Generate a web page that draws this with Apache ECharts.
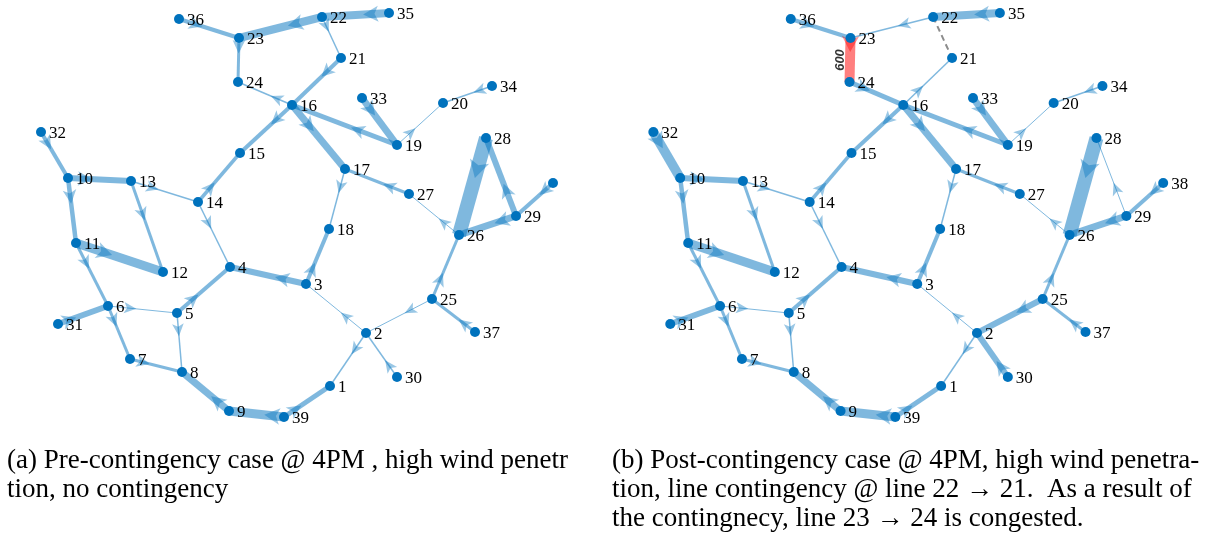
<!DOCTYPE html>
<html>
<head>
<meta charset="utf-8">
<script src="https://cdn.jsdelivr.net/npm/echarts@6/dist/echarts.min.js"></script>
<style>
  html, body { margin: 0; padding: 0; background: #ffffff; }
  #chart { width: 1210px; height: 535px; }
</style>
</head>
<body>
<div id="chart"></div>
<script>
// IEEE 39-bus system: bus layout in drawing units (y grows downward)
const busIds = [1, 2, 3, 4, 5, 6, 7, 8, 9, 10, 11, 12, 13, 14, 15, 16, 17, 18, 19, 20,
                21, 22, 23, 24, 25, 26, 27, 28, 29, 30, 31, 32, 33, 34, 35, 36, 37, 38, 39];
const busX = [330, 366, 306, 230, 177, 108, 130, 182, 229, 68, 76, 163, 131, 198, 240, 292, 345, 329, 397, 443,
              341, 322, 239, 238, 432, 459, 409, 486, 516, 397, 58, 41, 362, 492, 389, 179, 475, 553, 284];
const busY = [386, 333, 284, 267, 313, 306, 359, 372, 411, 178, 243, 272, 181, 202, 153, 105, 169, 229, 145, 103,
              58, 17, 38, 82, 299, 235, 194, 138, 216, 377, 324, 132, 98, 86, 13, 19, 332, 183, 417];

// (a) pre-contingency branch flows, sending bus -> receiving bus, MW
const preFrom = [36, 22, 35, 22, 21, 23, 16, 16, 14, 13, 14, 10, 32, 10, 13, 11, 11, 6, 31, 5, 5, 6, 7, 9, 39, 39,
                 2, 30, 2, 25, 37, 25, 3, 3, 17, 16, 27, 26, 19, 33, 19, 34, 28, 29, 29, 38];
const preTo   = [23, 23, 22, 21, 16, 24, 24, 15, 15, 14, 4, 13, 10, 11, 12, 12, 6, 5, 6, 4, 8, 7, 8, 8, 9, 1,
                 1, 2, 3, 2, 25, 26, 18, 4, 18, 17, 17, 27, 16, 19, 20, 20, 26, 28, 26, 29];
const preFlow = [250, 480, 480, 90, 240, 180, 90, 240, 210, 90, 90, 360, 240, 270, 180, 540, 180, 60, 360, 240, 90, 180, 180, 420, 540, 300,
                 90, 90, 60, 60, 180, 180, 240, 360, 90, 420, 180, 60, 300, 420, 60, 90, 840, 360, 420, 240];

// (b) post-contingency branch flows after tripping line 22 -> 21, MW
const postFrom = [36, 22, 35, 22, 16, 23, 24, 16, 14, 13, 14, 10, 32, 10, 13, 11, 11, 6, 31, 5, 5, 6, 7, 9, 39, 39,
                  2, 30, 2, 25, 37, 25, 3, 3, 17, 16, 27, 26, 19, 33, 19, 34, 28, 29, 29, 38];
const postTo   = [23, 23, 22, 21, 21, 24, 16, 15, 15, 14, 4, 13, 10, 11, 12, 12, 6, 5, 6, 4, 8, 7, 8, 8, 9, 1,
                  1, 2, 3, 2, 25, 26, 18, 4, 18, 17, 17, 27, 16, 19, 20, 20, 26, 28, 26, 29];
const postFlow = [250, 90, 480, 0, 90, 600, 300, 240, 210, 90, 90, 360, 570, 270, 180, 540, 180, 60, 360, 240, 90, 180, 180, 420, 540, 300,
                  90, 360, 60, 360, 180, 180, 240, 360, 90, 420, 180, 60, 300, 420, 60, 90, 840, 60, 420, 240];

const outagedLine = [22, 21];
const congestedLine = [23, 24];
const unlabeledBusesA = [38];

const captionA = '(a) Pre-contingency case @ 4PM , high wind penetr\ntion, no contingency';
const captionB = '(b) Post-contingency case @ 4PM, high wind penetra-\ntion, line contingency @ line 22 \u2192 21.  As a result of\nthe contingnecy, line 23 \u2192 24 is congested.';

// ---------------------------------------------------------------------------
const FLOW_COLOR = 'rgba(0,114,189,0.5)';
const CONGESTED_COLOR = 'rgba(255,0,0,0.5)';
const OUTAGE_COLOR = '#8c8c8c';
const BUS_COLOR = '#0072BD';
const SERIF = 'Liberation Serif';

function widthOf(flow) { return Math.max(1, flow / 60); }
function pos(bus) { const i = busIds.indexOf(bus); return [busX[i], busY[i]]; }
function sameLine(a, b, line) { return (a === line[0] && b === line[1]); }

function buildPanel(from, to, flow, panel, hiddenLabels) {
  const edges = [];
  const arrows = [];
  const notes = [];
  for (let k = 0; k < from.length; k++) {
    const p = pos(from[k]);
    const q = pos(to[k]);
    if (panel === 1 && sameLine(from[k], to[k], outagedLine)) {
      edges.push({ coords: [p, q], lineStyle: { width: 2, color: OUTAGE_COLOR, type: [6, 4], opacity: 1 } });
      continue;
    }
    const congested = panel === 1 && sameLine(from[k], to[k], congestedLine);
    const color = congested ? CONGESTED_COLOR : FLOW_COLOR;
    const w = widthOf(flow[k]);
    edges.push({ coords: [p, q], lineStyle: { width: w, color: color, opacity: 1 } });

    // arrow head with its tip at the middle of the branch
    const dx = q[0] - p[0], dy = q[1] - p[1];
    const len = Math.sqrt(dx * dx + dy * dy);
    const ah = 12 + w * 0.4;
    const aw = 8 + w * 0.5;
    const ux = dx / len, uy = dy / len;
    const cx = (p[0] + q[0]) / 2 - ux * ah * 0.5;
    const cy = (p[1] + q[1]) / 2 - uy * ah * 0.5;
    const rot = Math.atan2(-dx, -dy) * 180 / Math.PI;
    arrows.push({ value: [cx, cy], symbolRotate: rot, symbolSize: [aw, ah], itemStyle: { color: color } });

    if (congested) {
      notes.push({ value: [(p[0] + q[0]) / 2, (p[1] + q[1]) / 2, flow[k]] });
    }
  }
  const buses = busIds.map((id, i) => ({
    value: [busX[i], busY[i], id],
    label: { show: hiddenLabels.indexOf(id) < 0 }
  }));

  const series = [
    {
      type: 'lines', coordinateSystem: 'cartesian2d', xAxisIndex: panel, yAxisIndex: panel,
      polyline: false, silent: true, z: 1, animation: false,
      symbol: ['none', 'none'],
      data: edges
    },
    {
      type: 'scatter', xAxisIndex: panel, yAxisIndex: panel, symbol: 'arrow', silent: true, z: 2,
      animation: false, data: arrows
    },
    {
      type: 'scatter', xAxisIndex: panel, yAxisIndex: panel, symbol: 'circle', symbolSize: 10,
      silent: true, z: 3, animation: false,
      itemStyle: { color: BUS_COLOR, opacity: 1 },
      label: {
        show: true, position: 'right', distance: 3, offset: [0, 2],
        formatter: (d) => String(d.value[2]),
        fontFamily: SERIF, fontSize: 17, color: '#000'
      },
      data: buses
    }
  ];
  if (notes.length) {
    series.push({
      type: 'scatter', xAxisIndex: panel, yAxisIndex: panel, symbolSize: 2, silent: true, z: 4,
      animation: false, itemStyle: { color: 'rgba(0,0,0,0)' },
      label: {
        show: true, position: 'inside', rotate: 90, offset: [0, -10],
        formatter: (d) => String(d.value[2]),
        fontFamily: 'Liberation Sans', fontSize: 13,
        fontWeight: 'bold', fontStyle: 'italic', color: '#000'
      },
      data: notes
    });
  }
  return series;
}

const chart = echarts.init(document.getElementById('chart'), null, { renderer: 'canvas' });
const axisX = (i) => ({ type: 'value', gridIndex: i, min: 0, max: 600, show: false });
const axisY = (i) => ({ type: 'value', gridIndex: i, min: 0, max: 430, inverse: true, show: false });
const captionStyle = { fontFamily: SERIF, fontSize: 27, fontWeight: 'normal', color: '#000', lineHeight: 29 };

chart.setOption({
  backgroundColor: '#ffffff',
  animation: false,
  title: [
    { text: captionA, left: 7, top: 446, padding: 0, textStyle: captionStyle },
    { text: captionB, left: 612, top: 446, padding: 0, textStyle: captionStyle }
  ],
  grid: [
    { left: 0, top: 0, width: 600, height: 430 },
    { left: 612.5, top: 0, width: 600, height: 430 }
  ],
  xAxis: [axisX(0), axisX(1)],
  yAxis: [axisY(0), axisY(1)],
  series: [].concat(
    buildPanel(preFrom, preTo, preFlow, 0, unlabeledBusesA),
    buildPanel(postFrom, postTo, postFlow, 1, [])
  )
});
</script>
</body>
</html>
